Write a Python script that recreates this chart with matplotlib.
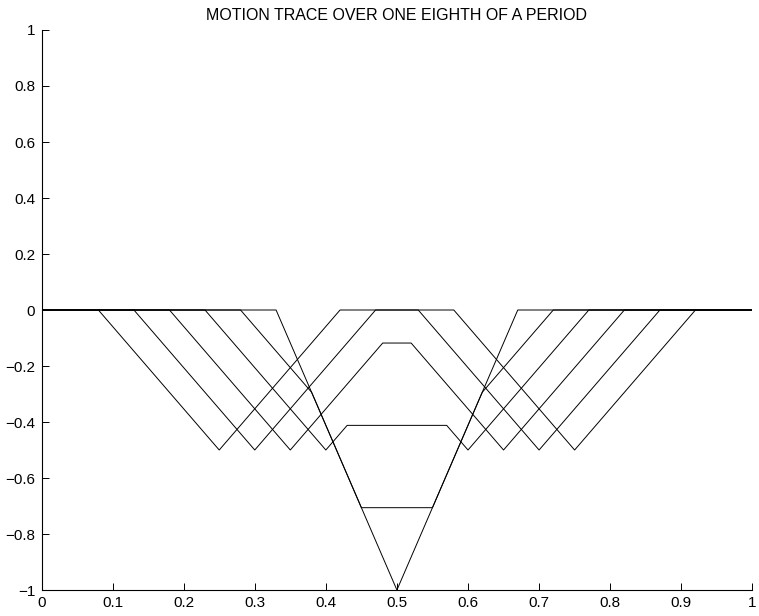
import matplotlib
matplotlib.use('Agg')
import matplotlib.pyplot as plt

# vertices of the string at six instants, t = 0 ... 1/8 period
x_t0 = [0.0, 0.33, 0.50, 0.67, 1.0]
y_t0 = [0.0, 0.0, -1.0, 0.0, 0.0]

x_t1 = [0.0, 0.28, 0.38, 0.45, 0.55, 0.62, 0.72, 1.0]
y_t1 = [0.0, 0.0, -0.294, -0.706, -0.706, -0.294, 0.0, 0.0]

x_t2 = [0.0, 0.23, 0.40, 0.43, 0.57, 0.60, 0.77, 1.0]
y_t2 = [0.0, 0.0, -0.50, -0.412, -0.412, -0.50, 0.0, 0.0]

x_t3 = [0.0, 0.18, 0.35, 0.48, 0.52, 0.65, 0.82, 1.0]
y_t3 = [0.0, 0.0, -0.50, -0.118, -0.118, -0.50, 0.0, 0.0]

x_t4 = [0.0, 0.13, 0.30, 0.47, 0.53, 0.70, 0.87, 1.0]
y_t4 = [0.0, 0.0, -0.50, 0.0, 0.0, -0.50, 0.0, 0.0]

x_t5 = [0.0, 0.08, 0.25, 0.42, 0.58, 0.75, 0.92, 1.0]
y_t5 = [0.0, 0.0, -0.50, 0.0, 0.0, -0.50, 0.0, 0.0]

traces = [(x_t0, y_t0), (x_t1, y_t1), (x_t2, y_t2),
          (x_t3, y_t3), (x_t4, y_t4), (x_t5, y_t5)]

xticks = [0, 0.1, 0.2, 0.3, 0.4, 0.5, 0.6, 0.7, 0.8, 0.9, 1]
xticklabels = ['0', '0.1', '0.2', '0.3', '0.4', '0.5', '0.6', '0.7', '0.8', '0.9', '1']
yticks = [-1, -0.8, -0.6, -0.4, -0.2, 0, 0.2, 0.4, 0.6, 0.8, 1]
yticklabels = ['\u22121', '\u22120.8', '\u22120.6', '\u22120.4', '\u22120.2', '0',
               '0.2', '0.4', '0.6', '0.8', '1']

plt.rcParams['font.family'] = ['Liberation Sans', 'DejaVu Sans']

fig = plt.figure(figsize=(7.59, 6.16), dpi=100)
ax = fig.add_axes([0.0547, 0.0422, 0.9365, 0.9091])

for xs, ys in traces:
    ax.plot(xs, ys, color='black', linewidth=0.7)

ax.set_xlim(0, 1)
ax.set_ylim(-1, 1)
ax.set_xticks(xticks)
ax.set_xticklabels(xticklabels)
ax.set_yticks(yticks)
ax.set_yticklabels(yticklabels)

ax.spines['top'].set_visible(False)
ax.spines['right'].set_visible(False)
ax.spines['left'].set_linewidth(0.8)
ax.spines['bottom'].set_linewidth(0.8)
ax.tick_params(direction='in', length=5, width=0.7, labelsize=11)
ax.tick_params(axis='x', pad=4.5)
ax.tick_params(axis='y', pad=4.5)

ax.set_title('MOTION TRACE OVER ONE EIGHTH OF A PERIOD', fontsize=11.5, pad=7.5)

fig.savefig('out.png', dpi=100)
